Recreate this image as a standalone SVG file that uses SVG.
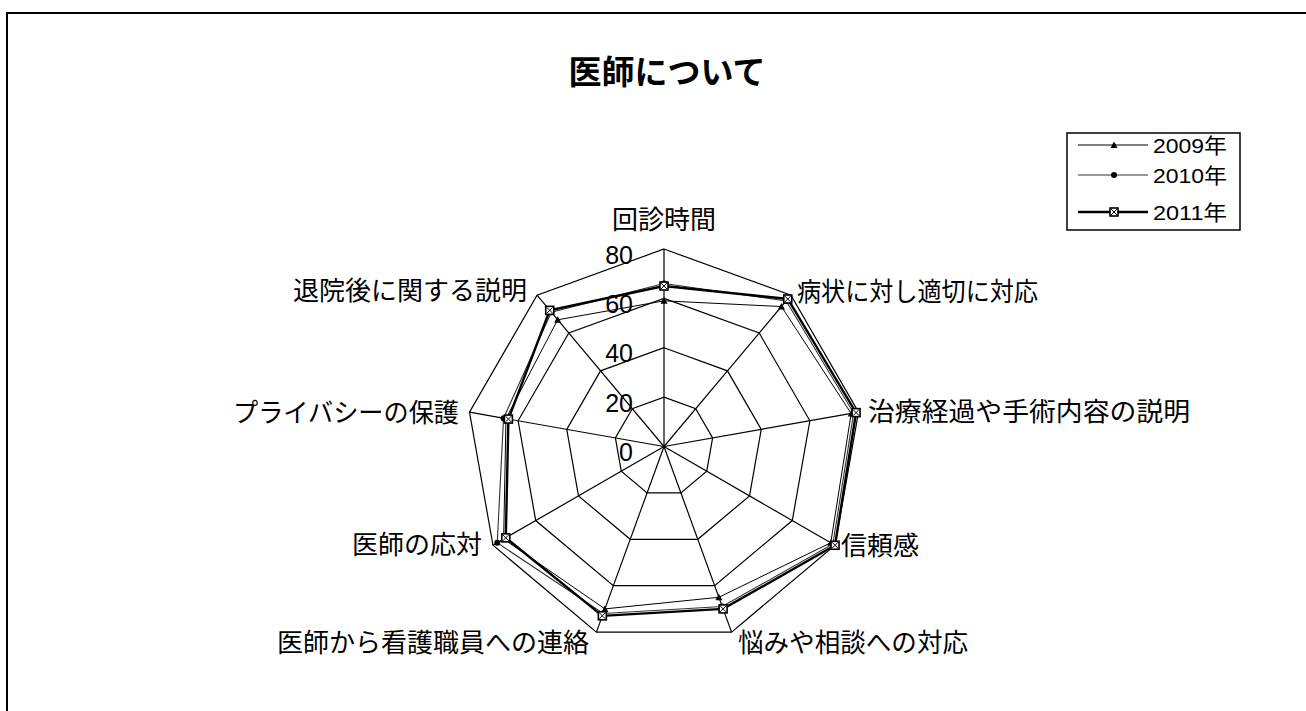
<svg xmlns="http://www.w3.org/2000/svg" width="1306" height="711" viewBox="0 0 1306 711">
<style>
.jp{font-family:"Noto Sans CJK JP","Noto Sans CJK SC",sans-serif;fill:#000}
.lab{font-size:26px}
.num{font-family:"Liberation Sans",Arial,sans-serif;font-size:25px;fill:#000}
.leg{font-family:"Liberation Sans","Noto Sans CJK JP",sans-serif;font-size:21px;fill:#000}
.ring{fill:none;stroke:#000;stroke-width:1.2}
.spoke{stroke:#000;stroke-width:1.2}
.s09{fill:none;stroke:#000;stroke-width:1}
.s10{fill:none;stroke:#333;stroke-width:1.1}
.s11{fill:none;stroke:#000;stroke-width:2.4}
</style>
<defs>
<path id="tri" d="M0,-3.5 L3.5,3 L-3.5,3 Z" fill="#000"/>
<circle id="dot" r="3" fill="#000"/>
<g id="sq"><rect x="-4" y="-4" width="8" height="8" fill="#fff" stroke="#000" stroke-width="1.6"/><path d="M-3,-3 L3,3 M3,-3 L-3,3" stroke="#000" stroke-width="1"/></g>
</defs>
<rect width="1306" height="711" fill="#fff"/>
<path d="M7,711 V13 H1306" fill="none" stroke="#000" stroke-width="2"/>
<g id="title"><text class="jp" x="667" y="84" font-size="33" font-weight="bold" text-anchor="middle">医師について</text></g>
<g id="grid">
<polygon class="ring" points="664,397.13 695.74,408.68 712.62,437.93 706.76,471.19 680.89,492.9 647.11,492.9 621.24,471.19 615.38,437.93 632.26,408.68"/>
<polygon class="ring" points="664,347.75 727.48,370.86 761.25,429.36 749.52,495.88 697.77,539.3 630.23,539.3 578.48,495.88 566.75,429.36 600.52,370.86"/>
<polygon class="ring" points="664,298.38 759.21,333.03 809.87,420.79 792.28,520.56 714.66,585.69 613.34,585.69 535.72,520.56 518.13,420.79 568.79,333.03"/>
<polygon class="ring" points="664,249 790.95,295.21 858.5,412.21 835.04,545.25 731.55,632.09 596.45,632.09 492.96,545.25 469.5,412.21 537.05,295.21"/>
<line class="spoke" x1="664" y1="446.5" x2="664" y2="249" stroke-width="2"/>
<line class="spoke" x1="664" y1="446.5" x2="790.95" y2="295.21"/>
<line class="spoke" x1="664" y1="446.5" x2="858.5" y2="412.21"/>
<line class="spoke" x1="664" y1="446.5" x2="835.04" y2="545.25"/>
<line class="spoke" x1="664" y1="446.5" x2="731.55" y2="632.09"/>
<line class="spoke" x1="664" y1="446.5" x2="596.45" y2="632.09"/>
<line class="spoke" x1="664" y1="446.5" x2="492.96" y2="545.25"/>
<line class="spoke" x1="664" y1="446.5" x2="469.5" y2="412.21"/>
<line class="spoke" x1="664" y1="446.5" x2="537.05" y2="295.21"/>
</g>
<g id="scale">
<text class="num" x="633" y="263.5" text-anchor="end">80</text>
<text class="num" x="633" y="312.5" text-anchor="end">60</text>
<text class="num" x="633" y="362" text-anchor="end">40</text>
<text class="num" x="633" y="411.5" text-anchor="end">20</text>
<text class="num" x="633" y="461" text-anchor="end">0</text>
</g>
<g id="series">
<g id="y2009">
<polygon class="s09" points="664,300.84 781.43,306.56 851.2,413.5 830.76,542.78 718.88,597.29 604.9,608.89 503.65,539.08 505.97,418.64 557.67,319.8"/>
<use href="#tri" x="664" y="300.84"/><use href="#tri" x="781.43" y="306.56"/><use href="#tri" x="851.2" y="413.5"/><use href="#tri" x="830.76" y="542.78"/><use href="#tri" x="718.88" y="597.29"/><use href="#tri" x="604.9" y="608.89"/><use href="#tri" x="503.65" y="539.08"/><use href="#tri" x="505.97" y="418.64"/><use href="#tri" x="557.67" y="319.8"/>
</g>
<g id="y2010">
<polygon class="s10" points="664,283.56 786.19,300.89 853.63,413.07 832.9,544.02 722.26,606.57 603.21,613.53 497.24,542.78 503.54,418.21 551.33,312.24"/>
<use href="#dot" x="664" y="283.56"/><use href="#dot" x="786.19" y="300.89"/><use href="#dot" x="853.63" y="413.07"/><use href="#dot" x="832.9" y="544.02"/><use href="#dot" x="722.26" y="606.57"/><use href="#dot" x="603.21" y="613.53"/><use href="#dot" x="497.24" y="542.78"/><use href="#dot" x="503.54" y="418.21"/><use href="#dot" x="551.33" y="312.24"/>
</g>
<g id="y2011">
<polygon class="s11" points="664,286.03 787.78,299 856.07,412.64 835.04,545.25 723.1,608.89 602.36,615.85 505.79,537.85 508.4,419.07 549.74,310.34"/>
<use href="#sq" x="664" y="286.03"/><use href="#sq" x="787.78" y="299"/><use href="#sq" x="856.07" y="412.64"/><use href="#sq" x="835.04" y="545.25"/><use href="#sq" x="723.1" y="608.89"/><use href="#sq" x="602.36" y="615.85"/><use href="#sq" x="505.79" y="537.85"/><use href="#sq" x="508.4" y="419.07"/><use href="#sq" x="549.74" y="310.34"/>
</g>
</g>
<g id="cat0"><text class="jp lab" x="664" y="229" text-anchor="middle">回診時間</text></g>
<g id="cat1"><text class="jp lab" x="797" y="301" textLength="241" lengthAdjust="spacingAndGlyphs">病状に対し適切に対応</text></g>
<g id="cat2"><text class="jp lab" x="868" y="421" textLength="322" lengthAdjust="spacingAndGlyphs">治療経過や手術内容の説明</text></g>
<g id="cat3"><text class="jp lab" x="841" y="555">信頼感</text></g>
<g id="cat4"><text class="jp lab" x="738" y="652" textLength="230" lengthAdjust="spacingAndGlyphs">悩みや相談への対応</text></g>
<g id="cat5"><text class="jp lab" x="589" y="652" text-anchor="end">医師から看護職員への連絡</text></g>
<g id="cat6"><text class="jp lab" x="482" y="554" text-anchor="end">医師の応対</text></g>
<g id="cat7"><text class="jp lab" x="459" y="422" text-anchor="end" textLength="226" lengthAdjust="spacingAndGlyphs">プライバシーの保護</text></g>
<g id="cat8"><text class="jp lab" x="527" y="300" text-anchor="end">退院後に関する説明</text></g>
<g id="legend">
<rect x="1067" y="133" width="173" height="97" fill="#fff" stroke="#000" stroke-width="1.5"/>
<line x1="1078" y1="145" x2="1148" y2="145" stroke="#000" stroke-width="1"/>
<use href="#tri" x="1114" y="145"/>
<text class="leg" x="1153" y="152.5" textLength="74" lengthAdjust="spacingAndGlyphs">2009年</text>
<line x1="1078" y1="175" x2="1148" y2="175" stroke="#333" stroke-width="1.1"/>
<use href="#dot" x="1114" y="175"/>
<text class="leg" x="1153" y="182.5" textLength="74" lengthAdjust="spacingAndGlyphs">2010年</text>
<line x1="1078" y1="212" x2="1148" y2="212" stroke="#000" stroke-width="2.4"/>
<use href="#sq" x="1114" y="212"/>
<text class="leg" x="1153" y="219.5" textLength="74" lengthAdjust="spacingAndGlyphs">2011年</text>
</g>
</svg>
